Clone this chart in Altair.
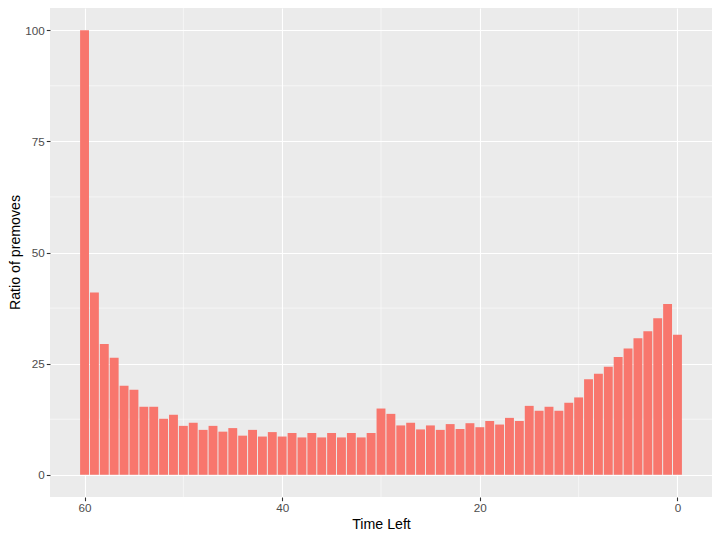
import altair as alt
import pandas as pd

time_left = list(range(60, -1, -1))
ratio = [100.0, 41.0, 29.4, 26.3, 20.0, 19.1, 15.3, 15.3, 12.6, 13.5,
         11.0, 11.7, 10.1, 11.0, 9.7, 10.5, 8.8, 10.1, 8.6, 9.6,
         8.6, 9.4, 8.4, 9.4, 8.4, 9.4, 8.4, 9.4, 8.4, 9.4,
         14.9, 13.7, 11.1, 11.7, 10.2, 11.1, 10.1, 11.4, 10.3, 11.6,
         10.7, 12.1, 11.3, 12.8, 12.1, 15.5, 14.4, 15.3, 14.4, 16.2,
         17.4, 21.5, 22.7, 24.3, 26.5, 28.4, 30.7, 32.3, 35.2, 38.4,
         31.5]
x_major = [0, 20, 40, 60]
x_minor = [10, 30, 50]
y_major = [0, 25, 50, 75, 100]
y_minor = [12.5, 37.5, 62.5, 87.5]

df = pd.DataFrame({"time_left": time_left, "ratio": ratio})

xscale = alt.Scale(domain=[-3.495, 63.495], reverse=True, nice=False, zero=False)
yscale = alt.Scale(domain=[-5, 105], nice=False, zero=False)

x_axis = alt.Axis(values=x_major, title="Time Left", grid=True,
                  gridColor="white", gridWidth=1.1, labelPadding=2,
                  titlePadding=3)
y_axis = alt.Axis(values=y_major, title="Ratio of premoves", grid=True,
                  gridColor="white", gridWidth=1.1, labelPadding=2,
                  titleX=-35, titleY=244, titleBaseline="middle",
                  titleAngle=270)

minor_x = alt.Chart(pd.DataFrame({"v": x_minor})).mark_rule(
    color="white", strokeWidth=0.55
).encode(x=alt.X("v:Q", scale=xscale, axis=x_axis))

minor_y = alt.Chart(pd.DataFrame({"v": y_minor})).mark_rule(
    color="white", strokeWidth=0.55
).encode(y=alt.Y("v:Q", scale=yscale, axis=y_axis))

bars = alt.Chart(df).transform_calculate(
    x0="datum.time_left - 0.45", x1="datum.time_left + 0.45"
).mark_bar(color="#F8766D").encode(
    x=alt.X("x0:Q", scale=xscale, axis=x_axis),
    x2="x1:Q",
    y=alt.Y("ratio:Q", scale=yscale, axis=y_axis),
    y2=alt.datum(0),
)

chart = alt.layer(minor_x, minor_y, bars).properties(
    width=662, height=489,
    autosize=alt.AutoSizeParams(type="none"),
    padding={"left": 42, "top": 0, "right": 0, "bottom": 45},
).configure_view(fill="#EBEBEB", stroke=None).configure_axis(
    labelFont="Liberation Sans", labelFontSize=11.7, labelColor="#4D4D4D",
    tickColor="#333333", tickSize=3.7, tickWidth=1.1, domain=False,
    titleFont="Liberation Sans", titleFontSize=14.2, titleColor="black",
    titleFontWeight="normal",
)

chart.save("out.html", embed_options={"renderer": "svg", "actions": False})
